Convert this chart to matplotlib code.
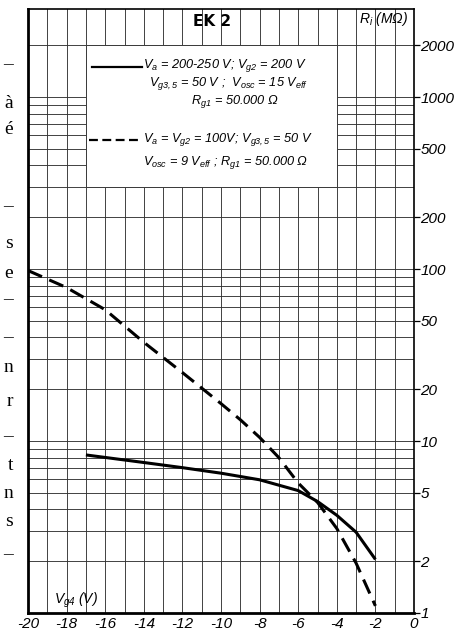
import matplotlib.pyplot as plt
from matplotlib.patches import Rectangle
from matplotlib.lines import Line2D
import numpy as np

# EK 2 : Ri (MOhm) en fonction de Vg4 (V)
vg4_solid = [-17, -14, -12, -10, -8, -6, -5, -4, -3, -2]
ri_solid = [8.3, 7.5, 7.0, 6.5, 5.95, 5.15, 4.45, 3.7, 2.95, 2.05]

vg4_dash = [-20, -18, -16, -14, -12, -10, -9, -8, -7, -6, -5, -4, -3, -2]
ri_dash = [98, 78, 58, 37.5, 25, 16.5, 13.3, 10.5, 8.0, 5.7, 4.4, 3.1, 1.95, 1.1]

xticks = [-20, -18, -16, -14, -12, -10, -8, -6, -4, -2, 0]
xlabels = ['-20', '-18', '-16', '-14', '-12', '-10', '-8', '-6', '-4', '-2', '0']
yticks = [1, 2, 5, 10, 20, 50, 100, 200, 500, 1000, 2000]
ylabels = ['1', '2', '5', '10', '20', '50', '100', '200', '500', '1000', '2000']

legend_solid = [r'$V_a$ = 200-250 V; $V_{g2}$ = 200 V',
                r'$V_{g3,5}$ = 50 V ;  $V_{osc}$ = 15 $V_{eff}$',
                r'$R_{g1}$ = 50.000 Ω']
legend_dash = [r'$V_a$ = $V_{g2}$ = 100V; $V_{g3,5}$ = 50 V',
               r'$V_{osc}$ = 9 $V_{eff}$ ; $R_{g1}$ = 50.000 Ω']

# bord de la page voisine (scan)
marge_txt = ['–', 'à', 'é', '–', 's', 'e', '–', '–', 'n', 'r', '–', 't', 'n', 's', '–']
marge_y = [65, 103, 130, 207, 243, 274, 300, 338, 368, 402, 437, 465, 493, 522, 555]

plt.rcParams['font.family'] = ['Liberation Sans', 'DejaVu Sans']
plt.rcParams['mathtext.fontset'] = 'custom'
plt.rcParams['mathtext.it'] = 'Liberation Sans:italic'
plt.rcParams['mathtext.rm'] = 'Liberation Sans:italic'
plt.rcParams['mathtext.default'] = 'it'
plt.rcParams['axes.unicode_minus'] = False

W, H = 462, 632
def fx(x): return x / W
def fy(y): return 1 - y / H

fig = plt.figure(figsize=(W / 100, H / 100), dpi=100)
ax = fig.add_axes([fx(28), 1 - 613 / H, 386 / W, 604 / H])

ax.set_yscale('log')
ax.set_xlim(-20, 0)
ax.set_ylim(1, 3250)

# grille
ax.set_xticks(xticks)
ax.set_xticklabels(xlabels)
ax.set_xticks(np.arange(-19, 0, 1), minor=True)
yminor = [v for v in list(range(1, 10)) + list(range(10, 100, 10)) + list(range(100, 1000, 100))
          if v not in yticks]
ax.set_yticks(yticks)
ax.set_yticklabels(ylabels)
ax.set_yticks(yminor, minor=True)
ax.yaxis.set_minor_formatter(plt.NullFormatter())
ax.yaxis.tick_right()
ax.set_axisbelow(True)
ax.grid(True, which='both', color='#333333', lw=0.65)
ax.tick_params(axis='x', which='both', length=0, labelsize=11, pad=3)
ax.tick_params(axis='y', which='major', length=4, width=0.9, direction='out', labelsize=11, pad=0.5)
ax.tick_params(axis='y', which='minor', length=0)
for lab in ax.get_xticklabels() + ax.get_yticklabels():
    lab.set_style('italic')

for s in ['left', 'bottom']:
    ax.spines[s].set_linewidth(2)
for s in ['top', 'right']:
    ax.spines[s].set_linewidth(1.2)

# cadre blanc de la legende
ax.add_patch(Rectangle((-17, 300), 13, 1700, facecolor='white', edgecolor='#333333', lw=0.65, zorder=1))

ax.plot(vg4_solid, ri_solid, color='black', lw=2.2, solid_capstyle='butt', zorder=3)
ax.plot(vg4_dash, ri_dash, color='black', lw=2.2, dashes=(5, 2.6), zorder=3)

# legende
fs = 9.2
fig.add_artist(Line2D([fx(92), fx(142)], [fy(67), fy(67)], color='black', lw=1.6))
fig.text(fx(143), fy(66), legend_solid[0], fontsize=fs, style='italic', va='center', ha='left')
fig.text(fx(228), fy(84), legend_solid[1], fontsize=fs, style='italic', va='center', ha='center')
fig.text(fx(235), fy(102), legend_solid[2], fontsize=fs, style='italic', va='center', ha='center')
fig.add_artist(Line2D([fx(89), fx(142)], [fy(140), fy(140)], color='black', lw=1.6, dashes=(4, 2)))
fig.text(fx(143), fy(139), legend_dash[0], fontsize=fs, style='italic', va='center', ha='left')
fig.text(fx(143), fy(163), legend_dash[1], fontsize=fs, style='italic', va='center', ha='left')

fig.text(fx(212), fy(21), 'EK 2', fontsize=11, fontweight='bold', family=['DejaVu Sans'],
         va='center', ha='center')
fig.text(fx(408), fy(19), r'$R_i$ (MΩ)', fontsize=10, style='italic', va='center', ha='right')
fig.text(fx(54), fy(600), r'$V_{g4}$ (V)', fontsize=10, style='italic', va='center', ha='left')

for t, y in zip(marge_txt, marge_y):
    fig.text(fx(13), fy(y), t, fontsize=14, family=['Liberation Serif', 'DejaVu Serif'],
             va='center', ha='right')

fig.savefig('out.png', dpi=100)
